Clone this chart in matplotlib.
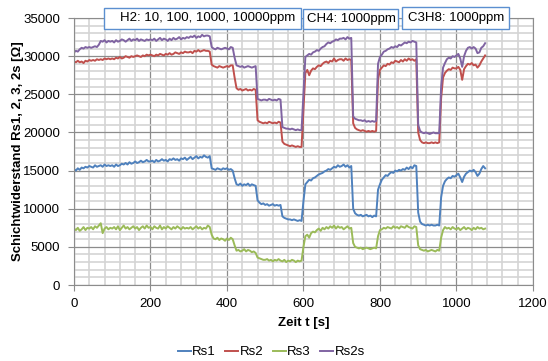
import numpy as np
import matplotlib.pyplot as plt
from matplotlib.patches import Rectangle
from matplotlib.ticker import MultipleLocator

plt.rcParams['font.family'] = ['Liberation Sans', 'DejaVu Sans']

# time axis, one sample every 5 s
t = np.arange(0, 1080, 5)

# resistances, in units of 100 Ohm
rs1 = [152,150,153,151,154,153,155,154,156,155,154,157,155,156,157,155,158,156,157,156,
       157,155,158,156,157,159,158,160,158,161,159,160,162,160,161,163,161,162,164,162,
       162,163,161,164,162,163,165,163,164,162,165,164,166,164,165,163,166,165,167,164,
       166,168,165,167,169,166,168,167,170,168,167,169,153,152,151,153,152,151,153,152,
       153,151,152,150,140,132,131,133,130,132,131,133,130,132,131,130,111,108,106,107,
       105,106,104,105,106,104,105,104,105,90,88,87,86,86,85,86,85,84,85,84,
       110,132,135,138,137,140,141,143,145,146,147,149,150,152,151,153,155,154,157,155,
       156,158,155,157,154,156,100,94,92,91,92,90,91,92,90,91,89,91,90,125,
       132,138,141,144,143,146,148,147,150,149,151,150,152,151,154,152,155,153,157,156,
       95,83,80,79,78,79,78,79,78,78,79,78,115,130,136,139,141,140,143,142,
       144,146,141,135,142,146,148,150,149,151,148,143,146,152,156,153]

rs2 = [293,292,294,292,293,291,294,293,295,294,295,294,296,295,296,295,297,296,297,296,
       297,296,298,297,299,297,298,300,299,298,300,299,300,301,300,299,301,300,302,301,
       302,301,300,302,301,303,302,301,303,302,304,302,303,305,304,303,305,304,306,305,
       305,306,304,307,306,308,306,307,308,307,307,306,289,287,286,285,287,286,285,286,
       287,286,288,288,272,258,256,257,255,256,257,255,256,255,257,256,216,214,213,212,
       213,212,214,213,212,213,212,214,213,188,185,184,183,182,183,182,181,182,181,181,
       230,278,282,275,281,284,283,286,288,287,290,292,293,291,294,293,297,293,295,296,
       296,294,297,295,296,295,212,206,204,203,202,203,202,201,202,201,202,201,202,270,
       282,285,288,287,290,289,292,291,294,293,292,295,293,296,294,297,295,296,294,296,
       200,190,187,186,187,186,186,187,186,187,186,187,245,272,278,281,283,282,285,284,
       284,286,282,269,283,287,290,289,291,288,289,285,288,293,297,301]

rs3 = [74,72,75,71,73,76,72,75,74,76,73,77,75,78,81,68,74,76,73,75,
       74,76,73,77,72,75,78,74,76,73,75,77,74,76,72,75,77,74,78,75,
       76,73,77,75,74,78,73,76,74,77,75,73,76,74,77,75,73,76,74,75,
       74,76,73,75,77,74,76,73,75,74,78,76,66,61,60,62,59,61,60,58,
       61,59,62,60,52,45,46,44,45,47,44,46,45,43,44,42,36,35,34,33,
       33,34,32,33,31,33,32,34,32,31,33,30,32,31,33,32,30,32,31,32,
       50,64,66,62,68,70,69,72,74,71,75,73,76,74,77,75,78,74,77,75,
       76,73,75,77,74,75,55,50,49,48,49,47,48,49,48,47,48,49,48,64,
       72,73,75,74,76,75,74,77,75,76,74,77,76,75,78,76,75,74,77,76,
       52,47,46,45,46,44,45,46,45,44,46,45,62,72,76,74,75,73,76,74,
       73,75,72,74,76,73,75,74,72,75,73,76,74,75,73,74]

rs2s = [305,307,306,309,311,310,312,311,312,311,312,313,312,315,320,319,321,318,320,319,
        320,318,321,319,320,322,321,319,321,323,320,322,321,323,320,322,321,320,322,321,
        322,321,323,320,322,324,321,323,322,320,323,321,324,322,323,325,322,324,323,325,
        324,326,325,327,324,326,325,328,326,327,327,326,312,310,309,311,310,309,310,311,
        310,309,312,311,298,288,287,286,287,285,286,287,286,285,286,287,244,243,242,243,
        243,242,244,243,242,243,242,244,243,207,206,205,205,204,205,204,203,204,203,203,
        250,299,301,303,302,305,306,308,307,310,312,313,316,318,317,319,320,322,321,323,
        323,324,322,325,323,324,221,218,217,216,216,215,216,214,215,214,215,214,215,290,
        299,302,306,307,309,310,312,311,313,312,315,314,316,318,317,319,318,320,319,318,
        210,202,200,199,200,199,198,199,200,199,199,199,260,285,291,296,298,297,300,299,
        301,303,297,286,300,307,311,312,310,312,310,304,305,311,313,317]

names = ['Rs1', 'Rs2', 'Rs3', 'Rs2s']
colors = ['#4F81BD', '#C0504D', '#9BBB59', '#8064A2']

fig = plt.figure(figsize=(5.48, 3.61), dpi=100)
ax = fig.add_axes([0.135, 0.2105, 0.8375, 0.7395])

for vals, name, c in zip([rs1, rs2, rs3, rs2s], names, colors):
    ax.plot(t, np.array(vals) * 100, color=c, lw=1.4, label=name)

ax.set_xlim(0, 1200)
ax.set_ylim(0, 35000)
ax.xaxis.set_major_locator(MultipleLocator(200))
ax.xaxis.set_minor_locator(MultipleLocator(40))
ax.yaxis.set_major_locator(MultipleLocator(5000))
ax.yaxis.set_minor_locator(MultipleLocator(1000))
ax.grid(which='minor', color='#d4d4d4', lw=1.2)
ax.grid(which='major', color='#8c8c8c', lw=0.9)
ax.set_axisbelow(True)
for s in ax.spines.values():
    s.set_color('#8c8c8c')
ax.tick_params(which='major', length=4, color='#8c8c8c', labelsize=9.5)
ax.tick_params(axis='y', pad=6)
ax.tick_params(axis='x', pad=5)
ax.tick_params(which='minor', length=0)

ax.set_xlabel('Zeit t [s]', fontweight='bold', fontsize=9.5)
ax.set_ylabel('Schichtwiderstand Rs1, 2, 3, 2s [Ω]', fontweight='bold', fontsize=9.5)
ax.xaxis.set_label_coords(0.5, -0.12)
ax.yaxis.set_label_coords(-0.109, 0.5)

# gas labels above the plot
W, H = 548, 361
boxes = [(104, 301, 8, 29, 120, 'H2: 10, 100, 1000, 10000ppm'),
         (303, 398, 9, 29, 307, 'CH4: 1000ppm'),
         (402, 509, 7, 29, 408, 'C3H8: 1000ppm')]
for x0, x1, y0, y1, tx, label in boxes:
    fig.patches.append(Rectangle((x0 / W, 1 - y1 / H), (x1 - x0) / W, (y1 - y0) / H,
                                 transform=fig.transFigure, facecolor='white',
                                 edgecolor='#5b8fd0', lw=1.0, zorder=5))
    fig.text(tx / W, 1 - (y0 + y1) / 2 / H, label, fontsize=9.5, va='center',
             ha='left', zorder=6)

fig.legend(loc='lower center', bbox_to_anchor=(0.495, -0.025), ncol=4, frameon=False,
           fontsize=9.5, handlelength=1.0, handletextpad=0.1, columnspacing=0.7)

fig.savefig('out.png', dpi=100)
